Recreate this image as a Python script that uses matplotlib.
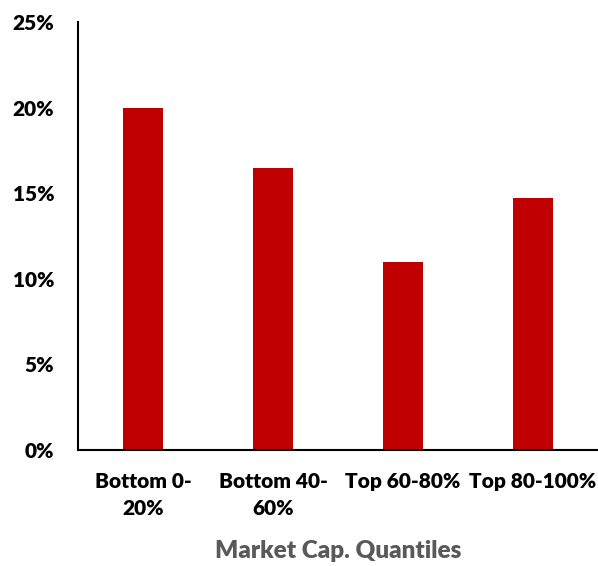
import matplotlib
matplotlib.use("Agg")
import matplotlib.pyplot as plt
from matplotlib.ticker import FuncFormatter

categories = ["Bottom 0-\n20%", "Bottom 40-\n60%", "Top 60-80%", "Top 80-100%"]
values = [20.0, 16.45, 11.0, 14.7]
yticks = [0, 5, 10, 15, 20, 25]

plt.rcParams['font.family'] = ['Lato', 'DejaVu Sans']
plt.rcParams['font.weight'] = 'bold'

fig = plt.figure(figsize=(5.98, 5.66), dpi=100)
ax = fig.add_axes([78/598, 1-450/566, 520/598, 428/566])

x = range(len(categories))
ax.bar(x, values, width=0.31, color="#C00000")
ax.set_xlim(-0.5, 3.5)
ax.set_ylim(0, 25)
ax.set_yticks(yticks)
ax.yaxis.set_major_formatter(FuncFormatter(lambda v, p: f"{int(v)}%"))
ax.set_xticks(list(x))
ax.set_xticklabels(categories, fontsize=15, fontweight='heavy', linespacing=1.5)
for lab in ax.get_yticklabels():
    lab.set_fontsize(15)
    lab.set_fontweight('heavy')
ax.tick_params(axis='x', length=0, pad=16)
ax.tick_params(axis='y', length=0, pad=17)
ax.spines['top'].set_visible(False)
ax.spines['right'].set_visible(False)
ax.spines['left'].set_linewidth(1.5)
ax.spines['bottom'].set_linewidth(1.5)
ax.set_xlabel("Market Cap. Quantiles", fontsize=17.5, fontweight='heavy', color="#595959", labelpad=16)

fig.savefig("out.png", dpi=100)
